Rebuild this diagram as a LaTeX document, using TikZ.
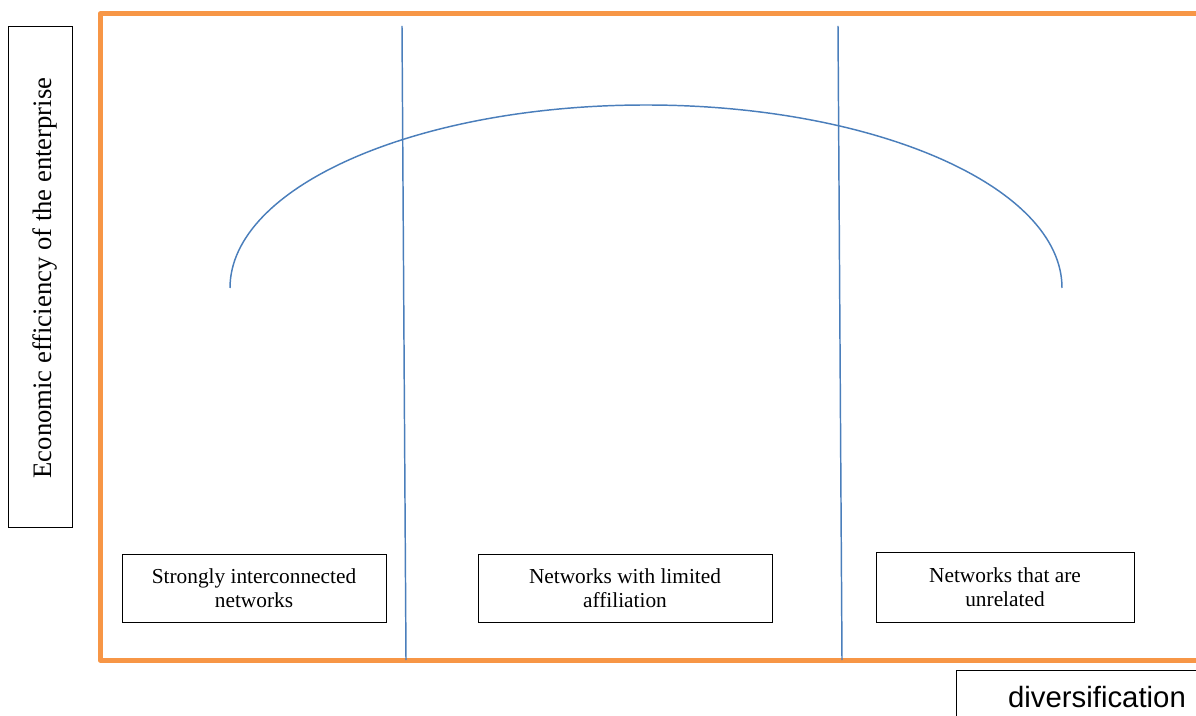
\documentclass[tikz,border=0pt]{standalone}
\usepackage{fontspec}
\setmainfont{Liberation Serif}
\newfontfamily\arialfont{Liberation Sans}
\usepackage{tikz}
\definecolor{cerceveTuruncu}{HTML}{F79646}
\definecolor{egriMavi}{HTML}{4A7EBB}
\tikzset{
  kutu/.style={draw=black,line width=0.75pt,inner sep=0pt,align=center,
    font=\fontsize{16}{18}\selectfont},
}
\begin{document}
\begin{tikzpicture}[x=0.75pt,y=-0.75pt]
\useasboundingbox (0,0) rectangle (1196,716);
% cerceve
\draw[cerceveTuruncu,line width=3.75pt,line join=round] (1215,14)--(100,14)--(100,660)--(1215,660);
% bolme cizgileri
\draw[egriMavi,line width=1.1pt] (402,26)--(406,660);
\draw[egriMavi,line width=1.1pt] (838,26)--(842,660);
% egri
\draw[egriMavi,line width=1.1pt] (230,288) arc[start angle=180,end angle=360,x radius=416,y radius=183];
% eksen etiketleri
\draw[line width=0.75pt] (8,27) rectangle (72,527);
\node[rotate=90,font=\fontsize{20}{22}\selectfont] (verim) at (45,278) {Economic efficiency of the enterprise};
\draw[line width=0.75pt] (956,670) rectangle (1230,740);
\node[font=\arialfont\fontsize{22}{24}\selectfont] (cesitlilik) at (1097,697) {diversification};
% ag kutulari
\node[kutu,minimum width=264*0.75pt,minimum height=68*0.75pt] (guclu) at (254,588) {Strongly interconnected\\networks};
\node[kutu,minimum width=294*0.75pt,minimum height=68*0.75pt] (sinirli) at (625,588) {Networks with limited\\affiliation};
\node[kutu,minimum width=258*0.75pt,minimum height=70*0.75pt] (ilgisiz) at (1005,587) {Networks that are\\unrelated};
\end{tikzpicture}
\end{document}
